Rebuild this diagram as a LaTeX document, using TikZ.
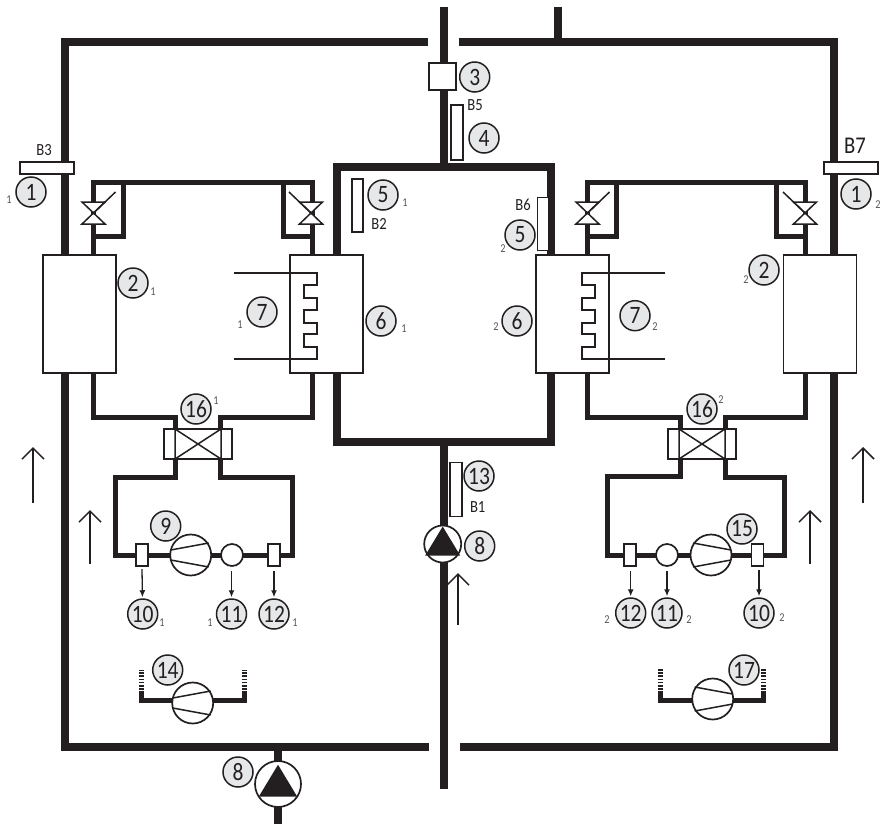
\documentclass[tikz,border=0pt]{standalone}
\usepackage{fontspec}
\setmainfont[FakeStretch=0.86]{Carlito}
\usetikzlibrary{arrows.meta,backgrounds}
\definecolor{ink}{HTML}{231F20}
\definecolor{disc}{HTML}{E6E7E8}
\definecolor{subc}{HTML}{555555}
\tikzset{
  circ/.style={circle,draw=ink,fill=disc,line width=1.5pt,minimum size=30pt,inner sep=0pt,text=ink,font=\fontsize{25}{25}\selectfont},
  subl/.style={text=subc,inner sep=0pt,font=\fontsize{12}{12}\selectfont},
  lab/.style={text=ink,inner sep=0pt,font=\fontsize{17}{17}\selectfont},
  hx/.style={draw=ink,fill=white,line width=1.7pt,minimum width=73pt,minimum height=118pt,inner sep=0pt},
  sens/.style={draw=ink,fill=white,line width=1.7pt,inner sep=0pt},
  water/.style={draw=ink,line width=8pt,miter limit=10},
  refr/.style={draw=ink,line width=5pt},
  thinl/.style={draw=ink,line width=1.5pt},
  coil/.style={draw=ink,line width=2.2pt},
  comp/.style={circle,draw=ink,fill=white,line width=1.7pt,minimum size=41pt,inner sep=0pt},
  pumpc/.style={circle,draw=ink,fill=white,line width=1.7pt,inner sep=0pt},
  tap/.style={draw=ink,line width=1.3pt,-{Latex[length=7pt,width=6pt]},shorten >=1pt},
  flow/.style={draw=ink,line width=1.5pt,-{Straight Barb[length=11pt,width=22pt,line width=1.5pt]}},
  dots/.style={draw=ink,line width=5pt,dash pattern=on 1.6pt off 1.6pt},
}
\newcommand{\cmpr}[3]{\node[comp] (#1) at (#2) {};
  \begin{scope}[shift={(#1)},xscale=#3]
    \draw[thinl] (-20,-5)--(18,-12) (-20,5)--(18,12);
  \end{scope}}
\newcommand{\valve}[3]{\coordinate (#1) at (#2);
  \begin{scope}[shift={(#1)},xscale=#3]
    \draw[thinl,fill=white,line join=miter] (-11.5,-11)--(11.5,-11)--(-11.5,11)--(11.5,11)--cycle;
    \draw[thinl] (0,0)--(22,-21);
  \end{scope}}
\newcommand{\coilp}[3]{\begin{scope}[shift={(#1)},xscale=#2]
    \draw[coil,line join=miter] (0,0)--(83,0)--(83,12)--(70,12)--(70,25)--(83,25)--(83,37)--(70,37)--(70,50)--(83,50)--(83,61)--(70,61)--(70,74)--(83,74)--(83,86)--(0,86);
  \end{scope}}
\newcommand{\pumpp}[4]{\node[pumpc,minimum size=#3] (#1) at (#2) {};
  \begin{scope}[shift={(#1)},scale=#4]
    \fill[ink] (0,-17.5)--(17.5,11.5)--(-17.5,11.5)--cycle;
  \end{scope}}
\newcommand{\valveb}[2]{\node[sens,minimum width=68pt,minimum height=30pt] (#1) at (#2) {};
  \begin{scope}[shift={(#1)}]
    \draw[thinl] (-23,-15)--(-23,15) (23,-15)--(23,15) (-23,-15)--(23,15) (-23,15)--(23,-15);
  \end{scope}}
\begin{document}
\begin{tikzpicture}[x=1pt,y=-1pt]
\useasboundingbox (0,0) rectangle (891,827);
% heat exchangers
\node[hx] (hxA) at (79.5,314) {};
\node[hx] (hxB) at (326.5,314) {};
\node[hx] (hxC) at (572.5,314) {};
\node[hx] (hxD) at (820,314) {};
% sensors
\node[sens,minimum width=27pt,minimum height=27pt] (s3) at (442.5,76.5) {};
\node[sens,minimum width=12pt,minimum height=55pt] (s4) at (457,132.5) {};
\node[sens,minimum width=11pt,minimum height=53pt] (s51) at (357.5,205.5) {};
\node[sens,minimum width=11pt,minimum height=53pt] (s52) at (543,224) {};
\node[sens,minimum width=54pt,minimum height=12pt] (s11) at (47,168) {};
\node[sens,minimum width=54pt,minimum height=12pt] (s12) at (851,168) {};
\node[sens,minimum width=12pt,minimum height=54pt] (s13) at (456,489.5) {};
% left refrigerant circuit
\valveb{vb1}{198,444}
\node[sens,minimum width=12pt,minimum height=22pt] (t101) at (142,555) {};
\node[sens,minimum width=12pt,minimum height=22pt] (t121) at (274,555) {};
\cmpr{c9}{190.7,555}{1}
\node[comp,minimum size=22pt] (c111) at (232,555) {};
\cmpr{c14}{192.7,703}{1}
% right refrigerant circuit
\valveb{vb2}{702,444}
\node[sens,minimum width=12pt,minimum height=22pt] (t122) at (630,555) {};
\node[sens,minimum width=12pt,minimum height=22pt] (t102) at (757.5,555) {};
\cmpr{c15}{711,555}{-1}
\node[comp,minimum size=22pt] (c112) at (667,555) {};
\cmpr{c17}{712.7,699}{-1}
% pumps
\pumpp{p1}{442.7,544}{37pt}{1}
\pumpp{p2}{278,784}{46pt}{1.1}
% expansion valves
\coordinate (pipeA) at (93.5,182);
\coordinate (pipeB) at (312,182);
\coordinate (pipeC) at (587.5,182);
\coordinate (pipeD) at (805,182);
\valve{v1}{93.5,213}{1}
\valve{v2}{311,213}{-1}
\valve{v3}{587.5,213}{1}
\valve{v4}{805,213}{-1}
% coils
\coordinate (coilA) at (234,273);
\coordinate (coilB) at (665,273);
\coilp{coilA}{1}{}
\coilp{coilB}{-1}{}
% pipes under everything
\begin{scope}[on background layer]
  \coordinate (ltop) at (428,42);
  \coordinate (lbot) at (429,747);
  \coordinate (rtop) at (459,42);
  \coordinate (rbot) at (460,747);
  \coordinate (ctop) at (443.5,7);
  \coordinate (cmid1) at (443.5,167);
  \coordinate (cmid2) at (443.5,442);
  \coordinate (cbot) at (443.5,789);
  \coordinate (stub) at (557.5,7);
  \draw[water,line join=miter] (ltop) -| (64.5,747) -- (lbot);
  \draw[water,line join=miter] (rtop) -| (834,747) -- (rbot);
  \draw[water] (ctop) -- (cmid1);
  \draw[water] (cmid2) -- (cbot);
  \draw[water] (stub) -- (557.5,42);
  \draw[water,line join=miter] (337,167) rectangle (551,442);
  \draw[water] (278,747) -- (278,824);
  % left circuit
  \draw[refr,line join=miter] (hxA.north -| pipeA) -- (pipeA) -- (pipeB) -- (hxB.north -| pipeB);
  \draw[refr,line join=miter] (pipeA) -- (123.5,182) -- (123.5,236.7) -- (93.5,236.7);
  \draw[refr,line join=miter] (pipeB) -- (283,182) -- (283,236.7) -- (312,236.7);
  \draw[refr,line join=miter] (hxA.south -| pipeA) |- (175,417) -- (vb1.north -| 175,0);
  \draw[refr,line join=miter] (hxB.south -| pipeB) |- (220,417) -- (vb1.north -| 220,0);
  \draw[refr,line join=miter] (vb1.south -| 175,0) |- (115,477) |- (292,555) |- (220,477) -- (vb1.south -| 220,0);
  % right circuit
  \draw[refr,line join=miter] (hxC.north -| pipeC) -- (pipeC) -- (pipeD) -- (hxD.north -| pipeD);
  \draw[refr,line join=miter] (pipeC) -- (616.7,182) -- (616.7,236.7) -- (587.5,236.7);
  \draw[refr,line join=miter] (pipeD) -- (776,182) -- (776,236.7) -- (805,236.7);
  \draw[refr,line join=miter] (hxC.south -| pipeC) |- (680,417) -- (vb2.north -| 680,0);
  \draw[refr,line join=miter] (hxD.south -| pipeD) |- (725,417) -- (vb2.north -| 725,0);
  \draw[refr,line join=miter] (vb2.south -| 680,0) |- (607.7,476.5) |- (784,555) |- (725,477) -- (vb2.south -| 725,0);
  % fans
  \draw[refr,line join=miter] (141.5,693) |- (244.5,700) -- (244.5,693);
  \draw[dots] (141.5,693) -- (141.5,670);
  \draw[dots] (244.5,693) -- (244.5,670);
  \draw[refr,line join=miter] (660.7,693) |- (763,700) -- (763,693);
  \draw[dots] (660.7,693) -- (660.7,668);
  \draw[dots] (763,693) -- (763,668);
\end{scope}
% numbered discs
\node[circ] (n11) at (31,192) {1};
\node[circ] (n12) at (856,194) {1};
\node[circ] (n21) at (133,283) {2};
\node[circ] (n22) at (764,270) {2};
\node[circ] (n3) at (474.7,77) {3};
\node[circ] (n4) at (484,138) {4};
\node[circ] (n51) at (383,195) {5};
\node[circ] (n52) at (520,235) {5};
\node[circ] (n61) at (381,321) {6};
\node[circ] (n62) at (517,321) {6};
\node[circ] (n71) at (262,312) {7};
\node[circ] (n72) at (635,315.7) {7};
\node[circ] (n81) at (479.7,546) {8};
\node[circ] (n82) at (238,772) {8};
\node[circ] (n9) at (165.7,526) {9};
\node[circ] (n101) at (142.7,614) {10};
\node[circ] (n102) at (759,613) {10};
\node[circ] (n111) at (231.5,614) {11};
\node[circ] (n112) at (667,613) {11};
\node[circ] (n121) at (274,614) {12};
\node[circ] (n122) at (630.7,613) {12};
\node[circ] (n13) at (479,476) {13};
\node[circ] (n14) at (167.7,670) {14};
\node[circ] (n15) at (742,529) {15};
\node[circ] (n161) at (196,409) {16};
\node[circ] (n162) at (702,409) {16};
\node[circ] (n17) at (744,670) {17};
% sensor taps
\coordinate (a101) at (142,569);
\coordinate (a111) at (231.5,571);
\coordinate (a121) at (274,571);
\coordinate (a102) at (759,570);
\coordinate (a112) at (667,571);
\coordinate (a122) at (630.7,571);
\draw[tap] (a101) -- (n101);
\draw[tap] (a111) -- (n111);
\draw[tap] (a121) -- (n121);
\draw[tap] (a102) -- (n102);
\draw[tap] (a112) -- (n112);
\draw[tap] (a122) -- (n122);
% flow arrows
\coordinate (f1a) at (33,503); \coordinate (f1b) at (33,447);
\coordinate (f2a) at (90,564); \coordinate (f2b) at (90,510);
\coordinate (f3a) at (458,625); \coordinate (f3b) at (458,573);
\coordinate (f4a) at (810,564); \coordinate (f4b) at (810,510);
\coordinate (f5a) at (863,503); \coordinate (f5b) at (863,447);
\draw[flow] (f1a) -- (f1b);
\draw[flow] (f2a) -- (f2b);
\draw[flow] (f3a) -- (f3b);
\draw[flow] (f4a) -- (f4b);
\draw[flow] (f5a) -- (f5b);
% labels
\node[lab] (lb3) at (44,150) {B3};
\node[lab,font=\fontsize{24}{24}\selectfont] (lb7) at (855,146) {B7};
\node[lab] (lb5) at (475,105) {B5};
\node[lab] (lb2) at (379,224) {B2};
\node[lab] (lb6) at (523,205) {B6};
\node[lab] (lb1) at (477.7,507) {B1};
% index marks
\node[subl] (i1) at (9,200) {1};
\node[subl] (i2) at (878,205) {2};
\node[subl] (i3) at (153,292) {1};
\node[subl] (i4) at (746,280) {2};
\node[subl] (i5) at (405,203) {1};
\node[subl] (i6) at (503,249) {2};
\node[subl] (i7) at (404,329) {1};
\node[subl] (i8) at (496,327) {2};
\node[subl] (i9) at (240,325) {1};
\node[subl] (i10) at (655,327) {2};
\node[subl] (i11) at (216,401) {1};
\node[subl] (i12) at (721,400) {2};
\node[subl] (i13) at (162,623) {1};
\node[subl] (i14) at (210,623) {1};
\node[subl] (i15) at (295,623) {1};
\node[subl] (i16) at (607,620) {2};
\node[subl] (i17) at (689,620) {2};
\node[subl] (i18) at (782,618) {2};
\end{tikzpicture}
\end{document}
